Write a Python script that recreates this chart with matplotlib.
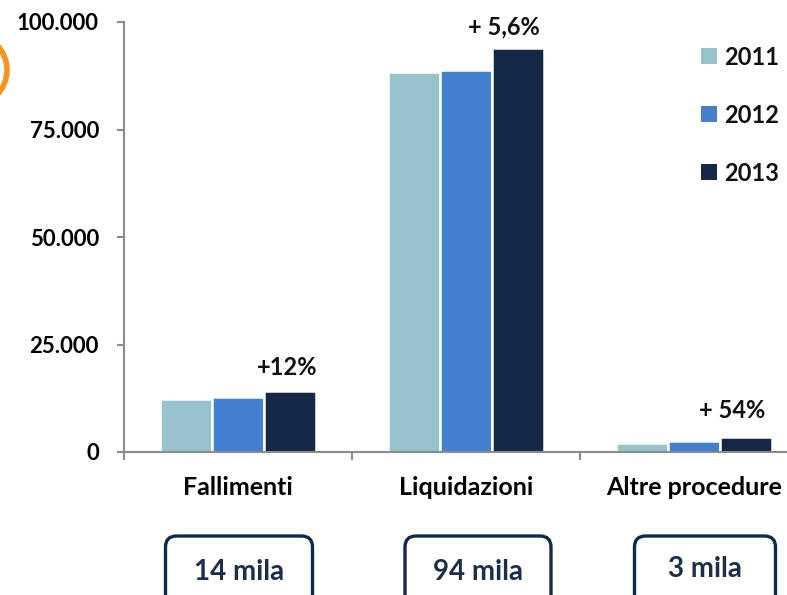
import matplotlib
matplotlib.use("Agg")
import matplotlib.pyplot as plt
from matplotlib.patches import FancyBboxPatch, Circle, Rectangle
import numpy as np

categories = ["Fallimenti", "Liquidazioni", "Altre procedure"]
years = ["2011", "2012", "2013"]
v2011 = [12300, 88400, 2100]
v2012 = [12800, 88800, 2500]
v2013 = [14200, 94000, 3400]
changes = ["+12%", "+ 5,6%", "+ 54%"]
totals = ["14 mila", "94 mila", "3 mila"]
yticks = [0, 25000, 50000, 75000, 100000]
ytick_labels = ["0", "25.000", "50.000", "75.000", "100.000"]

colors = ["#97C4CC", "#4380D0", "#152848"]
navy = "#0F2A4A"
grey = "#8C8C8C"
plt.rcParams['font.family'] = ['Lato', 'DejaVu Sans']

W, H = 787, 595
fig = plt.figure(figsize=(W / 100, H / 100), dpi=100)
fig.patch.set_facecolor("white")
ax = fig.add_axes([124 / W, (H - 452) / H, 684 / W, 430 / H])
ax.patch.set_visible(False)

x = np.arange(len(categories))
bw = 0.228
for j, vals in enumerate([v2011, v2012, v2013]):
    ax.bar(x + (j - 1) * bw, vals, width=bw, color=colors[j], edgecolor="white",
           linewidth=1.8, label=years[j], zorder=2)

ax.set_xlim(-0.5, 2.5)
ax.set_ylim(0, 100000)
ax.set_yticks(yticks)
ax.set_yticklabels(ytick_labels, fontsize=16, fontweight="bold")
ax.set_xticks([-0.5, 0.5, 1.5, 2.5])
ax.set_xticklabels([])
ax.set_xticks(x, minor=True)
ax.set_xticklabels(categories, minor=True, fontsize=18, fontweight="bold")
ax.tick_params(axis="x", which="major", length=6, width=1.5, color=grey, direction="out")
ax.tick_params(axis="x", which="minor", length=0, pad=17)
ax.tick_params(axis="y", length=5, width=1.5, color=grey, pad=13)
for s in ["top", "right"]:
    ax.spines[s].set_visible(False)
for s in ["left", "bottom"]:
    ax.spines[s].set_color(grey)
    ax.spines[s].set_linewidth(1.5)

offsets = [(0.215, 11.5), (0.167, 9.4), (0.167, 13.7)]
for i, (txt, (dx, dy)) in enumerate(zip(changes, offsets)):
    ax.annotate(txt, (x[i] + dx, v2013[i]), xytext=(0, dy), textcoords="offset points",
                ha="center", va="baseline", fontsize=17, fontweight="bold", color="#111111")

# overlay in pixel coordinates
ov = fig.add_axes([0, 0, 1, 1], zorder=-1)
ov.set_xlim(0, W)
ov.set_ylim(H, 0)
ov.axis("off")
ov.patch.set_visible(False)
ov.add_patch(Circle((-29, 70), 36, fill=False, edgecolor="#F7941D", linewidth=4))

# legend
for i, yr in enumerate(years):
    yc = 56 + 58 * i
    ov.add_patch(Rectangle((701, yc - 8), 16, 16, facecolor=colors[i], edgecolor="none"))
    ov.text(724, yc + 9, yr, ha="left", va="baseline", fontsize=17,
            fontweight="bold", color="#111111")

# total boxes
box_dx = [1, 12, 11]
box_w = [147, 146, 141]
base_y = [580, 580, 577]
for i, t in enumerate(totals):
    cx = ax.transData.transform((x[i], 0))[0] + box_dx[i]
    ov.add_patch(FancyBboxPatch((cx - box_w[i] / 2, 536), box_w[i], 90,
                                boxstyle="round,pad=0,rounding_size=11",
                                fill=False, edgecolor=navy, linewidth=2.4))
    ov.text(cx, base_y[i], t, ha="center", va="baseline", fontsize=20,
            fontweight="bold", color="#1B2F4D")

fig.savefig("out.png", dpi=100, facecolor="white")
